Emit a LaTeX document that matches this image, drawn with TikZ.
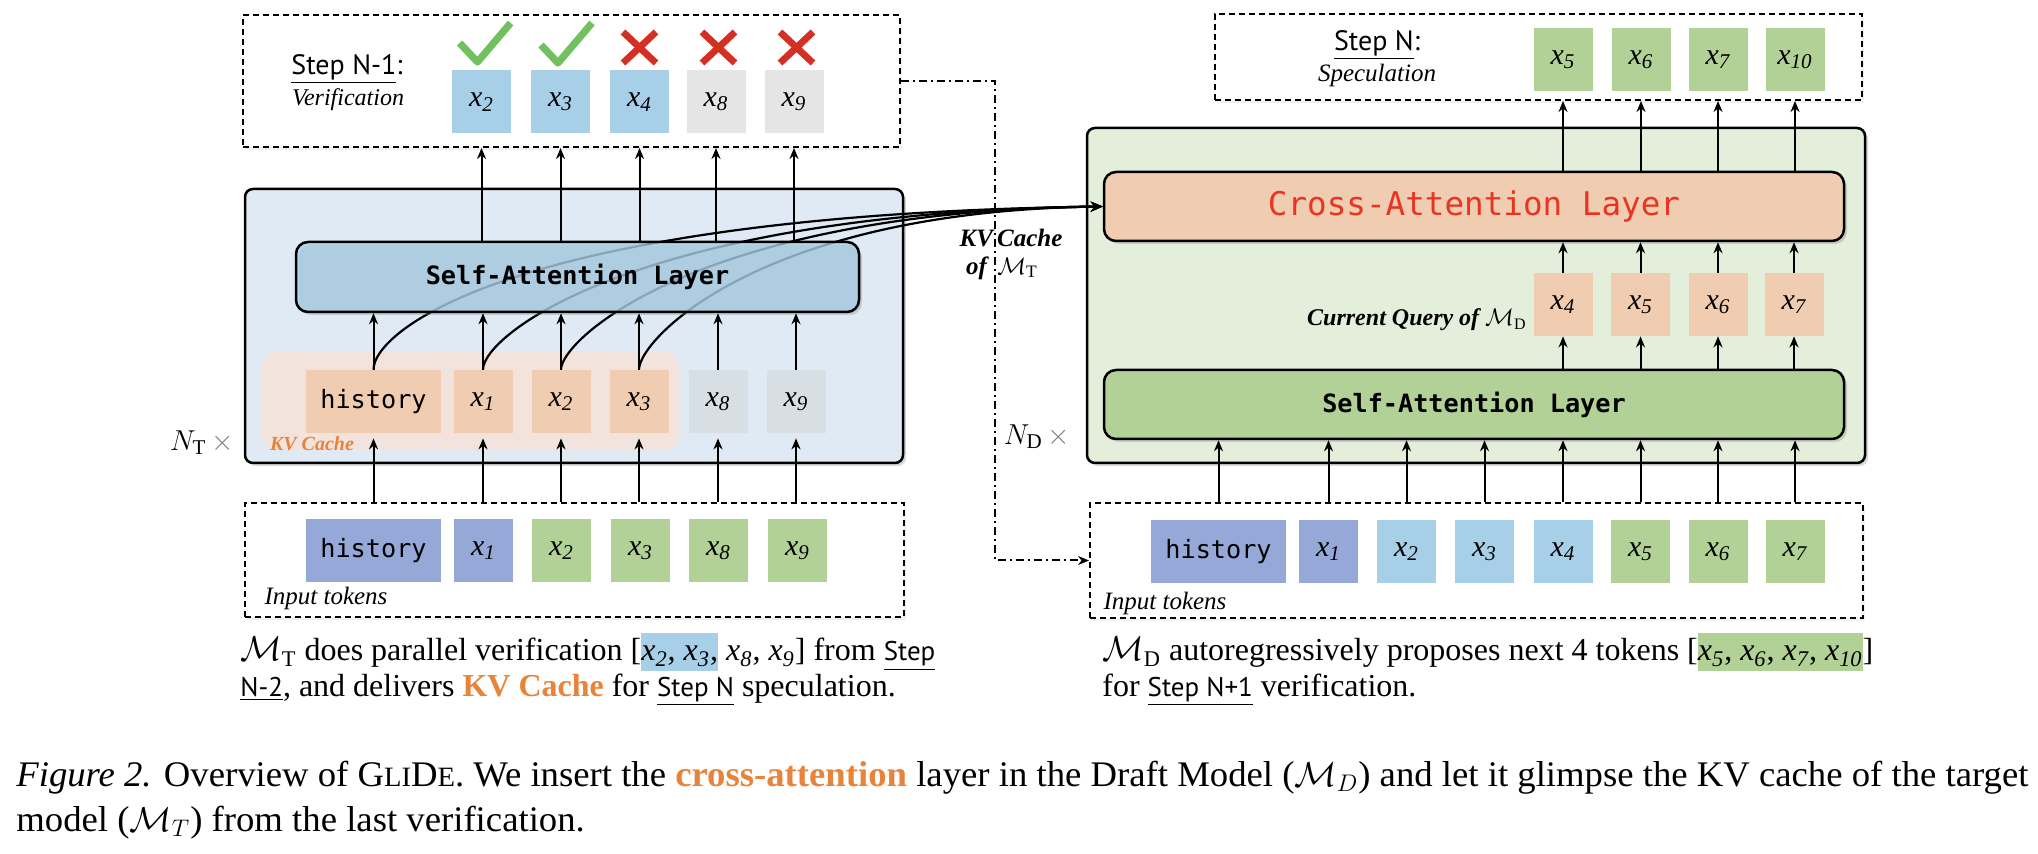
\documentclass[tikz,border=0pt]{standalone}
\usepackage{fontspec}
\setmainfont{Liberation Serif}
\setmonofont{DejaVu Sans Mono}
\newfontfamily\stepfont{PT Sans}
\usetikzlibrary{arrows.meta,shadows,calc}
\definecolor{outerblue}{HTML}{E0EAF4}
\definecolor{outergreen}{HTML}{E3EFDA}
\definecolor{saBlue}{HTML}{A8CFE8}
\definecolor{saGreen}{HTML}{B2D196}
\definecolor{peach}{HTML}{F0CDB0}
\definecolor{kvbg}{HTML}{F2E4DC}
\definecolor{greyA}{HTML}{D7DEE4}
\definecolor{greyB}{HTML}{E5E5E5}
\definecolor{peri}{HTML}{95A8D7}
\definecolor{tokGreen}{HTML}{B2D196}
\definecolor{tokBlue}{HTML}{A8CFE8}
\definecolor{kvorange}{HTML}{E8833A}
\definecolor{caRed}{HTML}{EA3323}
\definecolor{chkGreen}{HTML}{72C15E}
\definecolor{crossRed}{HTML}{D42F24}
\newcommand\xv[1]{\textit{x}\textsubscript{\itshape #1}}
\newcommand\fsz[1]{\fontsize{#1}{#1}\selectfont}
\newcommand\hlbox[2]{{\setlength{\fboxsep}{0pt}\colorbox{#1}{\rule[-0.32em]{0pt}{1.2em}#2}}}
\newcommand\stp[1]{\underline{\stepfont\fsz{13.5}#1}}
\begin{document}
\begin{tikzpicture}[x=0.5pt,y=-0.5pt,
  outerbox/.style={draw, line width=1.25pt, rounded corners=4pt, inner sep=0pt,
     drop shadow={shadow xshift=1.5pt, shadow yshift=-1.5pt, opacity=0.3}},
  dbox/.style={draw, dash pattern=on 3pt off 2pt, line width=1pt, fill=white, inner sep=0pt,
     drop shadow={shadow xshift=1pt, shadow yshift=-1.5pt, opacity=0.12}},
  layerbox/.style={draw, line width=1.25pt, rounded corners=6pt, inner sep=0pt,
     minimum width=370pt, minimum height=34.5pt,
     drop shadow={shadow xshift=1.5pt, shadow yshift=-1.5pt, opacity=0.3}},
  tok/.style={inner sep=0pt, minimum width=29.5pt, minimum height=31.5pt, font=\fsz{15}},
  htok/.style={inner sep=0pt, minimum width=67.5pt, minimum height=31.5pt, font=\ttfamily\fsz{12.6}},
  arr/.style={-{Stealth[length=5.5pt,width=4.5pt]}, line width=1pt},
  curve/.style={line width=1.1pt, -{Stealth[length=6pt,width=5pt]}},
  dashdotline/.style={line width=0.9pt, dash pattern=on 4pt off 2pt on 1pt off 2pt},
  check/.style={draw=chkGreen, line width=3.6pt, line join=round},
  crossmark/.style={draw=crossRed, line width=3.4pt},
  lab/.style={inner sep=0pt},
]
\useasboundingbox (0,0) rectangle (2038,854);

% ---------- containers ----------
\node[outerbox, fill=outerblue, minimum width=329pt, minimum height=137pt] (outerL) at (574,326) {};
\node[outerbox, fill=outergreen, minimum width=389pt, minimum height=167.5pt] (outerR) at (1476,295.5) {};
\node[dbox, minimum width=328.5pt, minimum height=66pt] (topL) at (571.5,81) {};
\node[dbox, minimum width=329.5pt, minimum height=57pt] (inL) at (574.5,560) {};
\node[dbox, minimum width=323.5pt, minimum height=43pt] (topR) at (1538.5,57) {};
\node[dbox, minimum width=386.5pt, minimum height=57.5pt] (inR) at (1476.5,560.5) {};
\node[fill=kvbg, rounded corners=7pt, minimum width=208.5pt, minimum height=49pt, inner sep=0pt] (kvL) at (470.5,401) {};

% ---------- left: verification tokens ----------
\node[tok, fill=tokBlue] (tL2) at (481.5,102) {\xv{2}};
\node[tok, fill=tokBlue] (tL3) at (560.5,102) {\xv{3}};
\node[tok, fill=tokBlue] (tL4) at (639.5,102) {\xv{4}};
\node[tok, fill=greyB] (tL8) at (716,102) {\xv{8}};
\node[tok, fill=greyB] (tL9) at (794,102) {\xv{9}};

% ---------- left: tokens inside target model ----------
\node[htok, fill=peach] (mH) at (373.5,401.5) {history};
\node[tok, fill=peach] (m1) at (483,401.5) {\xv{1}};
\node[tok, fill=peach] (m2) at (561,401.5) {\xv{2}};
\node[tok, fill=peach] (m3) at (639,401.5) {\xv{3}};
\node[tok, fill=greyA] (m8) at (718,401.5) {\xv{8}};
\node[tok, fill=greyA] (m9) at (796,401.5) {\xv{9}};

% ---------- left: input tokens ----------
\node[htok, fill=peri] (bH) at (373.5,550.5) {history};
\node[tok, fill=peri] (b1) at (483.5,550.5) {\xv{1}};
\node[tok, fill=tokGreen] (b2) at (561.5,550.5) {\xv{2}};
\node[tok, fill=tokGreen] (b3) at (640.5,550.5) {\xv{3}};
\node[tok, fill=tokGreen] (b8) at (718.5,550.5) {\xv{8}};
\node[tok, fill=tokGreen] (b9) at (797.5,550.5) {\xv{9}};

% ---------- right side ----------
\node[layerbox, fill=peach, font=\ttfamily\fsz{16.3}, text=caRed] (caR) at (1474,206.5) {Cross-Attention Layer};
\node[layerbox, fill=saGreen, font=\ttfamily\bfseries\fsz{12.6}] (saR) at (1474,404.5) {Self-Attention Layer};

\node[tok, fill=tokGreen] (r5) at (1563,59.5) {\xv{5}};
\node[tok, fill=tokGreen] (r6) at (1641,59.5) {\xv{6}};
\node[tok, fill=tokGreen] (r7) at (1718,59.5) {\xv{7}};
\node[tok, fill=tokGreen] (r10) at (1795,59.5) {\xv{10}};

\node[tok, fill=peach] (q4) at (1563,304.5) {\xv{4}};
\node[tok, fill=peach] (q5) at (1640.5,304.5) {\xv{5}};
\node[tok, fill=peach] (q6) at (1718,304.5) {\xv{6}};
\node[tok, fill=peach] (q7) at (1794,304.5) {\xv{7}};

\node[htok, fill=peri] (iH) at (1218.5,551.5) {history};
\node[tok, fill=peri] (i1) at (1328.5,551.5) {\xv{1}};
\node[tok, fill=tokBlue] (i2) at (1406.5,551.5) {\xv{2}};
\node[tok, fill=tokBlue] (i3) at (1484.5,551.5) {\xv{3}};
\node[tok, fill=tokBlue] (i4) at (1563,551.5) {\xv{4}};
\node[tok, fill=tokGreen] (i5) at (1640.5,551.5) {\xv{5}};
\node[tok, fill=tokGreen] (i6) at (1718,551.5) {\xv{6}};
\node[tok, fill=tokGreen] (i7) at (1795,551.5) {\xv{7}};

% ---------- KV cache curves ----------
\draw[curve] (mH.north) .. controls +(0,-40) and +(-584,8) .. (caR.west);
\draw[curve] (m1.north) .. controls +(0,-35) and +(-464,6) .. (caR.west);
\draw[curve] (m2.north) .. controls +(0,-30) and +(-404,5) .. (caR.west);
\draw[curve] (m3.north) .. controls +(0,-30) and +(-344,5) .. (caR.west);

% self-attention of target model (over the curves)
\node[layerbox, fill=saBlue, fill opacity=0.75, text opacity=1, minimum width=281.5pt, minimum height=35pt,
      font=\ttfamily\bfseries\fsz{12.6}] (saL) at (577.5,277) {Self-Attention Layer};

% ---------- arrows left ----------
\foreach \t in {tL2,tL3,tL4,tL8,tL9}
  \draw[arr] (saL.north -| \t) -- (topL.south -| \t);
\foreach \t in {mH,m1,m2,m3,m8,m9}
  \draw[arr] (\t.north) -- (saL.south -| \t);
\foreach \t in {mH,m1,m2,m3,m8,m9}
  \draw[arr, shorten >=2.5pt] (inL.north -| \t) -- (\t.south);

% ---------- arrows right ----------
\foreach \t in {r5,r6,r7,r10}
  \draw[arr] (caR.north -| \t) -- (topR.south -| \t);
\foreach \t in {q4,q5,q6,q7}
  \draw[arr] (\t.north) -- (caR.south -| \t);
\foreach \t in {q4,q5,q6,q7}
  \draw[arr] (saR.north -| \t) -- (\t.south);
\foreach \t in {iH,i1,i2,i3,i4,i5,i6,i7}
  \draw[arr] (inR.north -| \t) -- (saR.south -| \t);

% ---------- dash-dot KV path ----------
\coordinate (kvx) at (995,81);
\draw[dashdotline, arr] (topL.east) -- (kvx) -- (kvx |- inR.west) -- (inR.west);

% ---------- check / cross marks ----------
\draw[check] (459.6,43) -- (477.5,62) -- (510.6,23);
\draw[check] (541,45) -- (558,63) -- (592,23);
\draw[crossmark] (623,32) -- (656,63) (656,32) -- (623,63);
\draw[crossmark] (702,32) -- (735,63) (735,32) -- (702,63);
\draw[crossmark] (780,32) -- (813,63) (813,32) -- (780,63);

% ---------- labels ----------
\node[lab, font=\stepfont\fsz{14}] (stepL) at (347,69) {\underline{Step N-1}:};
\node[lab, font=\itshape\fsz{12}] (verL) at (348,100) {Verification};
\node[lab, font=\stepfont\fsz{14}] (stepR) at (1377,45) {\underline{Step N}:};
\node[lab, font=\itshape\fsz{12.5}] (specR) at (1377,75) {Speculation};
\node[lab, font=\bfseries\itshape\fsz{10}, text=kvorange] (kvsmall) at (312,444) {KV Cache};
\node[lab, font=\fsz{15}] (NT) at (202,443) {$N_{\mathrm{T}}$\,{\color{gray}$\times$}};
\node[lab, font=\fsz{15}] (ND) at (1037,437) {$N_{\mathrm{D}}$\,{\color{gray}$\times$}};
\node[lab, font=\itshape\fsz{12.5}] (inLlab) at (326,598) {Input tokens};
\node[lab, font=\itshape\fsz{12.5}] (inRlab) at (1165,603) {Input tokens};
\node[lab, font=\bfseries\itshape\fsz{12.5}] (kvmid1) at (1011,238) {KV\,Cache};
\node[lab, font=\bfseries\itshape\fsz{12.5}] (kvmid2) at (1002,268) {of\, $\mathcal{M}_{\mathrm{T}}$};
\node[lab, anchor=east, font=\bfseries\itshape\fsz{12}] (cq) at (1527,320) {Current Query of $\mathcal{M}_{\mathrm{D}}$};

% ---------- sub-captions ----------
\node[lab, anchor=west, font=\fsz{16}] (capL1) at (240,652)
  {$\mathcal{M}_{\mathrm{T}}$ does parallel verification [\hlbox{tokBlue}{\xv{2}, \xv{3},} \xv{8}, \xv{9}] from \stp{Step}};
\node[lab, anchor=west, font=\fsz{16}] (capL2) at (240,690)
  {\stp{N-2}, and delivers \textbf{\textcolor{kvorange}{KV Cache}} for \stp{Step N} speculation.};
\node[lab, anchor=west, font=\fsz{16}] (capR1) at (1102,652)
  {$\mathcal{M}_{\mathrm{D}}$ autoregressively proposes next 4 tokens [\hlbox{tokGreen}{\xv{5}, \xv{6}, \xv{7}, \xv{10}}]};
\node[lab, anchor=west, font=\fsz{16}] (capR2) at (1102,690)
  {for \stp{Step N+1} verification.};

% ---------- figure caption ----------
\node[lab, anchor=north west] (cap) at (16,754.5)
  {\resizebox{1006pt}{\height}{\fontsize{18}{22.5}\selectfont\begin{tabular}{@{}l@{}}
   \textit{Figure 2.} Overview of G{\fsz{14}LI}D{\fsz{14}E}. We insert the \textbf{\textcolor{kvorange}{cross-attention}} layer in the Draft Model ($\mathcal{M}_D$) and let it glimpse the KV cache of the target\\
   model ($\mathcal{M}_T$) from the last verification.
   \end{tabular}}};
\end{tikzpicture}
\end{document}
